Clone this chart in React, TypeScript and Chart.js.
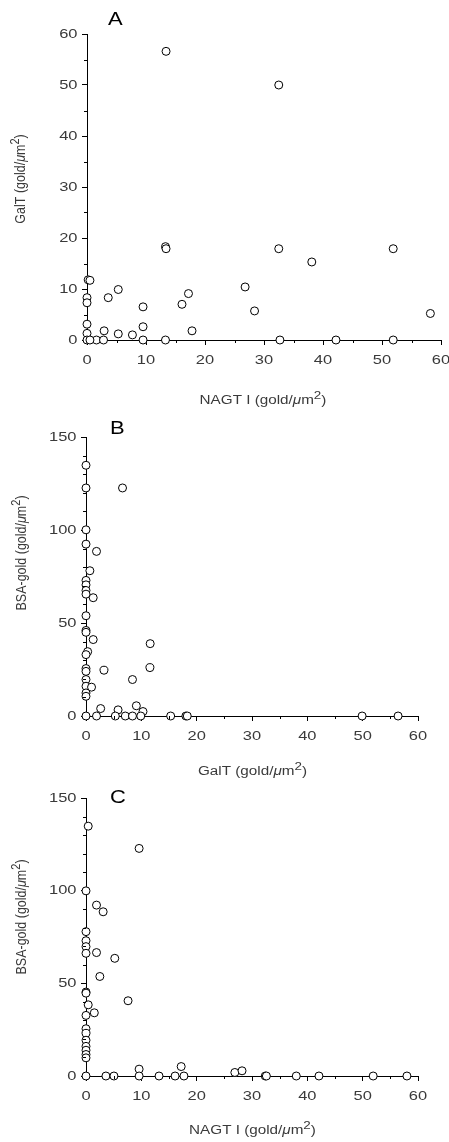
import React, { useEffect, useRef } from 'react';
import { Chart, registerables } from 'chart.js';

Chart.register(...registerables);

// Panel A: NAGT I (x) vs GalT (y)
const A_NAGT = [13.4, 32.5, 13.3, 13.4, 32.5, 38.1, 51.9, 0.2, 0.5, 0, 0, 3.6, 5.3, 9.5, 9.5, 0, 0, 1.6, 2.9, 2.8, 5.3, 7.7, 9.5, 13.3, 16.1, 17.2, 17.8, 26.8, 28.4, 32.7, 42.2, 51.9, 58.2, 0, 0.5];
const A_GALT = [56.6, 50.0, 18.3, 17.9, 17.9, 15.3, 17.9, 11.8, 11.7, 8.3, 7.3, 8.3, 9.9, 6.5, 2.6, 3.1, 1.3, 0, 1.8, 0, 1.2, 1.0, 0, 0, 7.0, 9.1, 1.8, 10.4, 5.7, 0, 0, 0, 5.2, 0, 0];

// Panel B: GalT (x) vs BSA-gold (y)
const B_GALT = [0, 0, 6.6, 0, 0, 1.9, 0.7, 0, 0, 0, 0, 1.3, 0, 0, 0, 1.3, 0.3, 0, 0, 0, 3.25, 0, 0, 1.0, 0, 0, 8.4, 11.6, 11.55, 2.65, 5.8, 9.1, 10.3, 0, 1.9, 5.3, 7.1, 8.4, 9.9, 15.3, 18.05, 18.3, 49.9, 56.4];
const B_BSA = [134.8, 122.6, 122.6, 100.1, 92.4, 88.5, 78.1, 72.9, 70.5, 67.5, 65.5, 63.6, 53.9, 46, 45, 41.1, 34.6, 33, 25.5, 24, 24.6, 19.6, 16, 15.5, 12.4, 10.6, 19.6, 38.9, 26, 4.0, 3.3, 5.5, 2.4, 0, 0, 0, 0, 0, 0, 0, 0, 0, 0, 0];

// Panel C: NAGT I (x) vs BSA-gold (y)
const C_NAGT = [0.4, 9.6, 0, 1.9, 3.1, 0, 0, 0, 0, 1.9, 5.2, 2.5, 0, 0, 7.6, 0.4, 1.5, 0, 0, 0, 0, 0, 0, 0, 0, 9.6, 17.2, 26.9, 28.2, 0, 3.6, 5.05, 9.6, 13.2, 16.1, 17.7, 32.4, 32.6, 38.0, 42.1, 51.9, 58.0];
const C_BSA = [134.8, 122.8, 99.9, 92.2, 88.6, 77.9, 73, 69.8, 66.2, 66.6, 63.5, 53.7, 45.3, 44.7, 40.6, 38.4, 34.1, 32.7, 25.5, 23, 19.3, 16, 13.9, 11.6, 9.8, 3.7, 5.1, 1.9, 2.8, 0, 0, 0, 0, 0, 0, 0, 0, 0, 0, 0, 0, 0];

const TICKS_60 = [0, 10, 20, 30, 40, 50, 60];
const MINOR_60 = [5, 15, 25, 35, 45, 55];
const TICKS_150 = [0, 50, 100, 150];
const MINOR_150 = [10, 20, 30, 40, 60, 70, 80, 90, 110, 120, 130, 140];

const NAGT_TITLE = 'NAGT I';
const GALT_TITLE = 'GalT';
const BSA_TITLE = 'BSA-gold';

const TEXT_COLOR = '#3a3a3a';
const FONT = '"Liberation Sans", Arial, sans-serif';
const STRETCH = 1.22;

type Panel = {
  letter: string;
  top: number;
  height: number;
  padTop: number;
  padRight: number;
  yW: number;
  xH: number;
  xs: number[];
  ys: number[];
  yMax: number;
  yTicks: number[];
  yMinor: number[];
  xTitle: string;
  yTitle: string;
  letterPos: [number, number];
  xTitlePos: [number, number];
  yTitlePos: [number, number];
};

const PANELS: Panel[] = [
  {
    letter: 'A', top: 0, height: 415, padTop: 34, padRight: 8, yW: 87, xH: 75,
    xs: A_NAGT, ys: A_GALT, yMax: 60, yTicks: TICKS_60, yMinor: MINOR_60,
    xTitle: NAGT_TITLE, yTitle: GALT_TITLE,
    letterPos: [108, 25], xTitlePos: [263, 401], yTitlePos: [21, 179],
  },
  {
    letter: 'B', top: 415, height: 365, padTop: 22, padRight: 31, yW: 86, xH: 64,
    xs: B_GALT, ys: B_BSA, yMax: 150, yTicks: TICKS_150, yMinor: MINOR_150,
    xTitle: GALT_TITLE, yTitle: BSA_TITLE,
    letterPos: [110, 434], xTitlePos: [252.5, 772], yTitlePos: [22, 553],
  },
  {
    letter: 'C', top: 780, height: 362, padTop: 18, padRight: 31, yW: 86, xH: 66,
    xs: C_NAGT, ys: C_BSA, yMax: 150, yTicks: TICKS_150, yMinor: MINOR_150,
    xTitle: NAGT_TITLE, yTitle: BSA_TITLE,
    letterPos: [110, 803], xTitlePos: [252.5, 1131], yTitlePos: [22, 917],
  },
];

type Part = { t: string; italic?: boolean; sup?: boolean };

function unitParts(name: string): Part[] {
  return [
    { t: name + ' (gold/' },
    { t: 'μ', italic: true },
    { t: 'm' },
    { t: '2', sup: true },
    { t: ')' },
  ];
}

function drawRich(ctx: CanvasRenderingContext2D, parts: Part[], cx: number, cy: number, rotate: boolean) {
  ctx.save();
  ctx.translate(cx, cy);
  ctx.scale(STRETCH, 1);
  if (rotate) ctx.rotate(-Math.PI / 2);
  ctx.fillStyle = TEXT_COLOR;
  ctx.textBaseline = 'middle';
  ctx.textAlign = 'left';
  const fontFor = (p: Part) =>
    `${p.italic ? 'italic ' : ''}${p.sup ? 11 : 12.5}px ${FONT}`;
  const widths = parts.map((p) => {
    ctx.font = fontFor(p);
    return ctx.measureText(p.t).width;
  });
  const total = widths.reduce((a, b) => a + b, 0);
  let x = -total / 2;
  parts.forEach((p, i) => {
    ctx.font = fontFor(p);
    ctx.fillText(p.t, x, p.sup ? -5 : 0);
    x += widths[i];
  });
  ctx.restore();
}

function drawLabel(ctx: CanvasRenderingContext2D, text: string, x: number, y: number, align: CanvasTextAlign, size: number) {
  ctx.save();
  ctx.translate(x, y);
  ctx.scale(STRETCH, 1);
  ctx.font = `${size}px ${FONT}`;
  ctx.textAlign = align;
  ctx.textBaseline = 'middle';
  ctx.fillText(text, 0, 0);
  ctx.restore();
}

function PanelChart({ p }: { p: Panel }) {
  const ref = useRef<HTMLCanvasElement | null>(null);
  useEffect(() => {
    if (!ref.current) return;
    const decor = {
      id: 'decor',
      afterDraw(chart: any) {
        const ctx: CanvasRenderingContext2D = chart.ctx;
        const xs = chart.scales.x;
        const ys = chart.scales.y;
        const area = chart.chartArea;
        // minor ticks
        ctx.save();
        ctx.strokeStyle = '#000';
        ctx.lineWidth = 1;
        ctx.beginPath();
        MINOR_60.forEach((v) => {
          const px = Math.round(xs.getPixelForValue(v)) + 0.5;
          ctx.moveTo(px, area.bottom);
          ctx.lineTo(px, area.bottom + 3);
        });
        p.yMinor.forEach((v) => {
          const py = Math.round(ys.getPixelForValue(v)) + 0.5;
          ctx.moveTo(area.left - 3, py);
          ctx.lineTo(area.left, py);
        });
        ctx.stroke();
        ctx.restore();

        // tick labels
        ctx.save();
        ctx.fillStyle = TEXT_COLOR;
        TICKS_60.forEach((v) => {
          drawLabel(ctx, String(v), xs.getPixelForValue(v), area.bottom + 20, 'center', 13.5);
        });
        p.yTicks.forEach((v) => {
          drawLabel(ctx, String(v), area.left - 9.5, ys.getPixelForValue(v), 'right', 13.5);
        });
        ctx.restore();

        drawRich(ctx, unitParts(p.xTitle), p.xTitlePos[0], p.xTitlePos[1] - p.top, false);
        drawRich(ctx, unitParts(p.yTitle), p.yTitlePos[0], p.yTitlePos[1] - p.top, true);

        ctx.save();
        ctx.fillStyle = '#000';
        ctx.translate(p.letterPos[0], p.letterPos[1] - p.top);
        ctx.scale(STRETCH, 1);
        ctx.font = `18px ${FONT}`;
        ctx.textAlign = 'left';
        ctx.textBaseline = 'alphabetic';
        ctx.fillText(p.letter, 0, 0);
        ctx.restore();
      },
    };

    const chart = new Chart(ref.current, {
      type: 'scatter',
      data: {
        datasets: [
          {
            data: p.xs.map((x, i) => ({ x, y: p.ys[i] })),
            pointRadius: 4,
            pointBorderWidth: 1,
            pointBorderColor: '#000',
            pointBackgroundColor: '#fff',
            showLine: false,
            clip: false as any,
          },
        ],
      },
      options: {
        responsive: false,
        animation: false,
        devicePixelRatio: 1,
        layout: {
          autoPadding: false,
          padding: { top: p.padTop, right: p.padRight, left: 0, bottom: 0 },
        },
        plugins: {
          legend: { display: false },
          tooltip: { enabled: false },
        },
        events: [],
        scales: {
          x: {
            type: 'linear',
            min: 0,
            max: 60,
            afterFit: (s: any) => { s.height = p.xH; },
            afterBuildTicks: (s: any) => { s.ticks = TICKS_60.map((v) => ({ value: v })); },
            ticks: { display: false, autoSkip: false },
            grid: {
              display: true,
              drawOnChartArea: false,
              drawTicks: true,
              tickLength: 5,
              tickColor: '#000',
              tickWidth: 1,
              color: '#000',
            },
            border: { display: true, color: '#000', width: 1 },
          },
          y: {
            type: 'linear',
            min: 0,
            max: p.yMax,
            afterFit: (s: any) => { s.width = p.yW; },
            afterBuildTicks: (s: any) => { s.ticks = p.yTicks.map((v) => ({ value: v })); },
            ticks: { display: false, autoSkip: false },
            grid: {
              display: true,
              drawOnChartArea: false,
              drawTicks: true,
              tickLength: 5,
              tickColor: '#000',
              tickWidth: 1,
              color: '#000',
            },
            border: { display: true, color: '#000', width: 1 },
          },
        },
      } as any,
      plugins: [decor],
    });
    return () => chart.destroy();
  }, [p]);

  return (
    <canvas
      ref={ref}
      width={449}
      height={p.height}
      style={{ position: 'absolute', left: 0, top: p.top, width: 449, height: p.height, display: 'block' }}
    />
  );
}

export default function App() {
  return (
    <div style={{ position: 'absolute', left: 0, top: 0, width: 449, height: 1142, background: '#fff', overflow: 'hidden' }}>
      {PANELS.map((p) => (
        <PanelChart key={p.letter} p={p} />
      ))}
    </div>
  );
}
